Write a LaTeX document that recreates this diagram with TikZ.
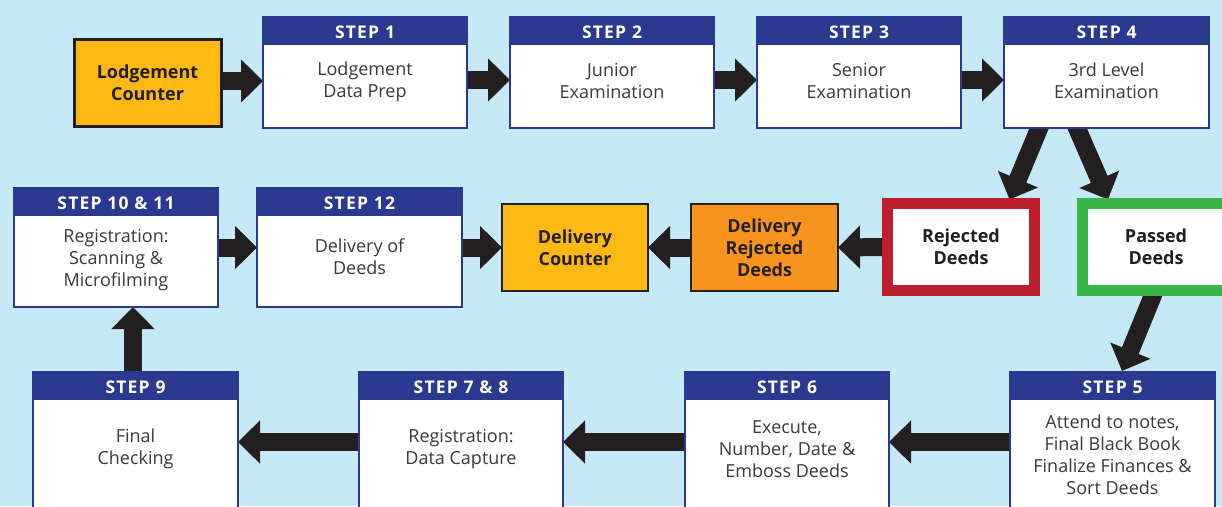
\documentclass[tikz,border=0pt]{standalone}
\usepackage{fontspec}
\setmainfont{Open Sans}
\usetikzlibrary{arrows.meta,calc}
\definecolor{bg}{HTML}{C6E9F8}
\definecolor{hdr}{HTML}{2B3990}
\definecolor{txt}{HTML}{3A3A3A}
\definecolor{arr}{HTML}{231F20}
\definecolor{yel}{HTML}{FDB913}
\definecolor{org}{HTML}{F7941D}
\definecolor{redb}{HTML}{BE1E2D}
\definecolor{grn}{HTML}{39B54A}
\begin{document}
\begin{tikzpicture}[x=1pt,y=-1pt,
  every node/.style={outer sep=0pt},
  stepbox/.style={draw=none, fill=none, inner sep=0pt, outer sep=0pt, anchor=north west},
  hdrtext/.style={text=white, inner sep=0pt, text depth=0pt, font=\fontsize{17.5}{20}\selectfont\bfseries\addfontfeatures{LetterSpace=7}},
  bodytext/.style={text=txt, align=center, inner sep=0pt, font=\fontsize{18}{22}\selectfont},
  colbox/.style={inner sep=0pt, outer sep=0pt, anchor=north west, align=center, text=arr, font=\fontsize{18}{22}\selectfont\bfseries},
  bigarrow/.style={draw=arr, line width=18pt, -{Triangle[width=42pt,length=22pt]}}
]
\useasboundingbox (0,0) rectangle (1222,506);
\fill[bg] (0,0) rectangle (1222,506);
\clip (0,0) rectangle (1222,506);

% placement of the boxes (drawn later, above the arrows)
\path
  node[stepbox, minimum width=147pt, minimum height=87pt] (lc) at (74,39) {}
  node[stepbox, minimum width=204pt, minimum height=111pt] (s1) at (263,17) {}
  node[stepbox, minimum width=204pt, minimum height=111pt] (s2) at (510,17) {}
  node[stepbox, minimum width=204pt, minimum height=111pt] (s3) at (757,17) {}
  node[stepbox, minimum width=205pt, minimum height=111pt] (s4) at (1004,17) {}
  node[stepbox, minimum width=204pt, minimum height=119pt] (s10) at (14,188) {}
  node[stepbox, minimum width=205pt, minimum height=119pt] (s12) at (257,188) {}
  node[stepbox, minimum width=146pt, minimum height=87pt] (dc) at (502,204) {}
  node[stepbox, minimum width=147pt, minimum height=87pt] (dr) at (691,204) {}
  node[stepbox, minimum width=147pt, minimum height=87pt] (rj) at (887.5,203.5) {}
  node[stepbox, minimum width=147pt, minimum height=87pt] (ps) at (1082.5,203.5) {}
  node[stepbox, minimum width=205pt, minimum height=150pt] (s9) at (33,372) {}
  node[stepbox, minimum width=204pt, minimum height=150pt] (s78) at (359,372) {}
  node[stepbox, minimum width=204pt, minimum height=150pt] (s6) at (685,372) {}
  node[stepbox, minimum width=205pt, minimum height=150pt] (s5) at (1010,372) {};

% arrows
\draw[bigarrow] ($(lc.east)+(0,-1.5)$) -- ($(lc.east -| s1.west)+(0,-1.5)$);
\draw[bigarrow] ($(s1.north east)+(0,63)$) -- ($(s2.north west)+(0,63)$);
\draw[bigarrow] ($(s2.north east)+(0,63)$) -- ($(s3.north west)+(0,63)$);
\draw[bigarrow] ($(s3.north east)+(0,63)$) -- ($(s4.north west)+(0,63)$);
\draw[bigarrow] ($(s4.south west)+(39,-9)$) -- ($(rj.north east)+(-25,-4)$);
\draw[bigarrow] ($(s4.south west)+(69,-9)$) -- ($(ps.north west)+(25.5,-4)$);
\draw[bigarrow] ($(ps.south west)+(74,-4)$) -- ($(s5.north west)+(112,-1)$);
\draw[bigarrow] (rj.west) -- (dr.east);
\draw[bigarrow] (dr.west) -- (dc.east);
\draw[bigarrow] (s12.east) -- (s12.east -| dc.west);
\draw[bigarrow] (s10.east) -- (s12.west);
\coordinate (up) at ($(s9.north west)+(100,0)$);
\draw[bigarrow] (up) -- (up |- s10.south);
\draw[bigarrow] ($(s5.north west)+(0,70)$) -- ($(s6.north east)+(0,70)$);
\draw[bigarrow] ($(s6.north west)+(0,70)$) -- ($(s78.north east)+(0,70)$);
\draw[bigarrow] ($(s78.north west)+(0,70)$) -- ($(s9.north east)+(0,70)$);

% coloured boxes
\node[colbox, fill=yel, draw=arr, line width=3pt, minimum width=147pt, minimum height=87pt] (lcb) at (74,39) {Lodgement\\Counter\rule{0pt}{5pt}};
\node[colbox, fill=yel, draw=arr, line width=2.5pt, minimum width=146pt, minimum height=87pt] (dcb) at (502,204) {Delivery\\Counter};
\node[colbox, fill=org, draw=arr, line width=2.5pt, minimum width=147pt, minimum height=87pt] (drb) at (691,204) {Delivery\\Rejected\\Deeds};
\node[colbox, fill=white, draw=redb, line width=11pt, minimum width=147pt, minimum height=87pt] (rjb) at (887.5,203.5) {Rejected\\Deeds};
\node[colbox, fill=white, draw=grn, line width=11pt, minimum width=147pt, minimum height=87pt, text width=147pt] (psb) at (1082.5,203.5) {Passed\\Deeds};

% step boxes
\foreach \n/\h/\t/\o in {s1/{STEP 1}/{Lodgement\\Data Prep}/65, s2/{STEP 2}/{Junior\\Examination}/64, s3/{STEP 3}/{Senior\\Examination}/64, s4/{STEP 4}/{3rd Level\\Examination}/64, s10/{STEP 10 \& 11}/{Registration:\\Scanning \&\\Microfilming}/72, s12/{STEP 12}/{Delivery of\\Deeds}/69, s9/{STEP 9}/{Final\\Checking}/77, s78/{STEP 7 \& 8}/{Registration:\\Data Capture}/77, s6/{STEP 6}/{Execute,\\Number, Date \&\\Emboss Deeds}/77, s5/{STEP 5}/{Attend to notes,\\Final Black Book\\Finalize Finances \&\\Sort Deeds}/83}{
  \draw[hdr, line width=2.5pt, fill=white] (\n.north west) rectangle (\n.south east);
  \fill[hdr] ($(\n.north west)+(-1.25,-1.25)$) rectangle ($(\n.north east)+(1.25,28)$);
  \node[hdrtext] (\n h) at ($(\n.north)+(0,15)$) {\h};
  \node[bodytext] (\n b) at ($(\n.north)+(0,\o)$) {\t};
}
\end{tikzpicture}
\end{document}
